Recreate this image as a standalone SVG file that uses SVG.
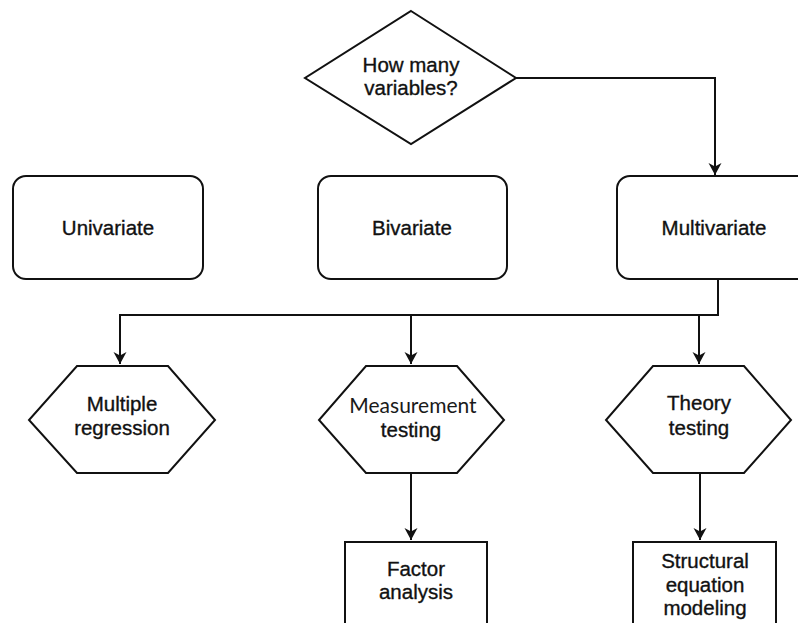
<svg xmlns="http://www.w3.org/2000/svg" width="798" height="623" viewBox="0 0 798 623">
  <style>
    .shape { fill: #ffffff; stroke: #111111; stroke-width: 2; }
    .label { font-family: "Liberation Sans", Arial, Helvetica, sans-serif; font-size: 20.5px; fill: #111111; stroke: #111111; stroke-width: 0.35; text-anchor: middle; }
    .label-alt { font-family: Lato, "Open Sans", sans-serif; font-size: 21px; fill: #1a1a1a; text-anchor: middle; }
    .wire { fill: none; stroke: #111111; stroke-width: 2; }
  </style>
  <defs>
    <marker id="arrow" markerWidth="13" markerHeight="14" refX="12" refY="6.5" orient="auto" markerUnits="userSpaceOnUse">
      <path d="M0,0 L12,6.5 L0,13 L3.5,6.5 Z" fill="#111111"/>
    </marker>
  </defs>
  <rect width="798" height="623" fill="#ffffff"/>

  <g id="connectors">
    <polyline class="wire" points="516,78 715,78 715,175" marker-end="url(#arrow)"/>
    <polyline class="wire" points="718,279 718,315 120,315 120,364" marker-end="url(#arrow)"/>
    <polyline class="wire" points="411,315 411,364" marker-end="url(#arrow)"/>
    <polyline class="wire" points="699,315 699,364" marker-end="url(#arrow)"/>
    <polyline class="wire" points="411,473 411,540" marker-end="url(#arrow)"/>
    <polyline class="wire" points="700,473 700,540" marker-end="url(#arrow)"/>
  </g>

  <g id="question">
    <polygon class="shape" points="411,11 516,78 411,144 305,78"/>
    <text class="label" x="411" y="72">How many</text>
    <text class="label" x="411" y="95">variables?</text>
  </g>

  <g id="univariate">
    <rect class="shape" x="13" y="176" width="190" height="103" rx="13"/>
    <text class="label" x="108" y="235">Univariate</text>
  </g>

  <g id="bivariate">
    <rect class="shape" x="318" y="176" width="189" height="103" rx="13"/>
    <text class="label" x="412" y="235">Bivariate</text>
  </g>

  <g id="multivariate">
    <rect class="shape" x="617" y="176" width="200" height="103" rx="13"/>
    <text class="label" x="714" y="235">Multivariate</text>
  </g>

  <g id="multiple-regression">
    <polygon class="shape" points="77,366 168,366 215,420 168,473 77,473 29,420"/>
    <text class="label" x="122" y="411">Multiple</text>
    <text class="label" x="122" y="435">regression</text>
  </g>

  <g id="measurement-testing">
    <polygon class="shape" points="366,366 457,366 504,420 457,473 366,473 319,420"/>
    <text class="label-alt" x="413" y="413">Measurement</text>
    <text class="label" x="411" y="437">testing</text>
  </g>

  <g id="theory-testing">
    <polygon class="shape" points="653,366 744,366 791,420 744,473 653,473 606,420"/>
    <text class="label" x="699" y="410">Theory</text>
    <text class="label" x="699" y="435">testing</text>
  </g>

  <g id="factor-analysis">
    <rect class="shape" x="345" y="542" width="142" height="100"/>
    <text class="label" x="416" y="576">Factor</text>
    <text class="label" x="416" y="599">analysis</text>
  </g>

  <g id="sem">
    <rect class="shape" x="633" y="542" width="143" height="100"/>
    <text class="label" x="705" y="568">Structural</text>
    <text class="label" x="705" y="592">equation</text>
    <text class="label" x="705" y="615">modeling</text>
  </g>
</svg>
